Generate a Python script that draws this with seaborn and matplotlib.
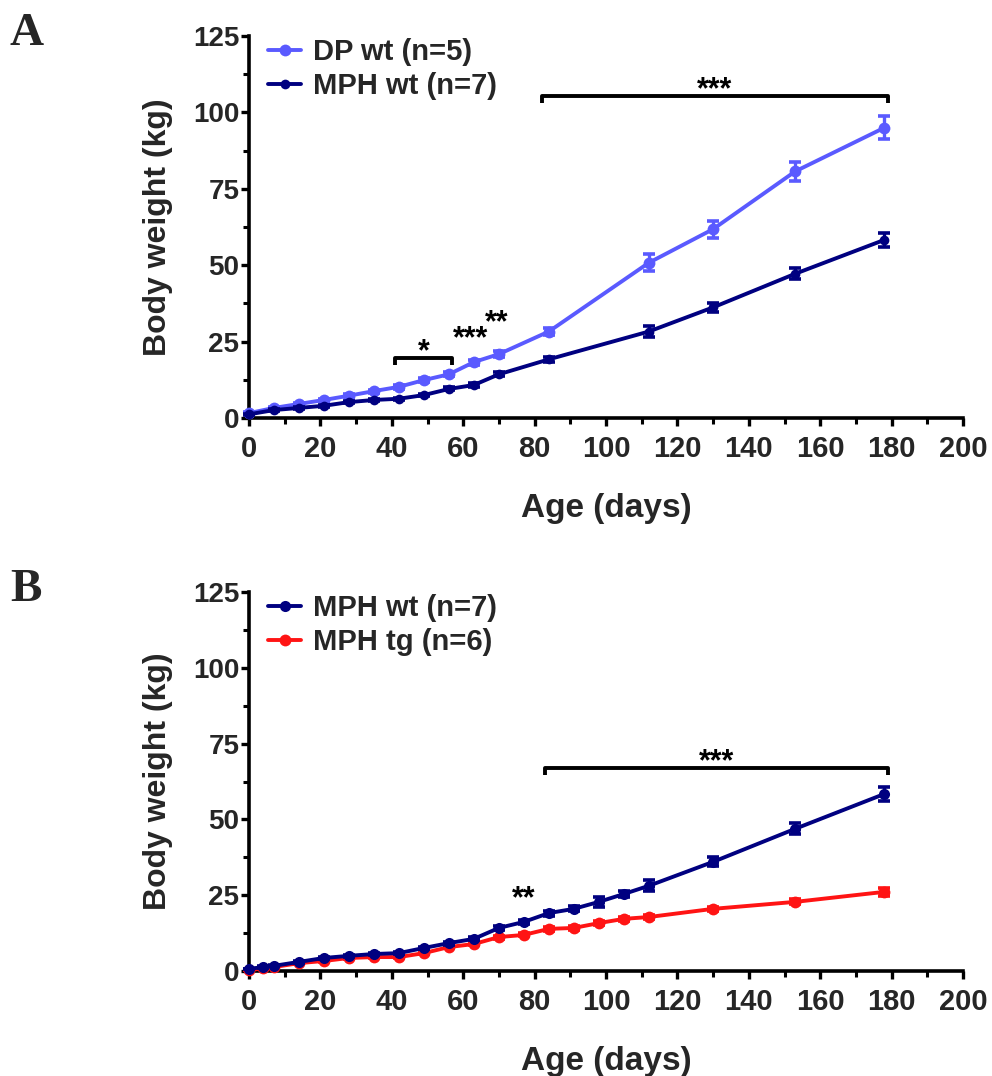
import numpy as np
import pandas as pd
import matplotlib
matplotlib.use("Agg")
import matplotlib.pyplot as plt
from matplotlib.ticker import MultipleLocator
from matplotlib.lines import Line2D
import seaborn as sns

# ---------------- data ----------------
days_a = [0, 7, 14, 21, 28, 35, 42, 49, 56, 63, 70, 84, 112, 130, 153, 178]
dp_wt_a = [1.6, 3.3, 4.6, 5.9, 7.3, 8.8, 10.2, 12.4, 14.3, 18.3, 20.9, 28.3, 50.8, 61.8, 80.7, 95.0]
dp_wt_a_err = [0.3, 0.3, 0.4, 0.4, 0.5, 0.5, 0.6, 0.6, 0.7, 0.8, 0.9, 1.3, 2.8, 2.8, 3.0, 3.8]
mph_wt_a = [1.2, 2.6, 3.3, 4.0, 5.2, 5.9, 6.3, 7.5, 9.5, 10.8, 14.3, 19.2, 28.3, 36.2, 47.2, 58.3]
mph_wt_a_err = [0.2, 0.2, 0.3, 0.3, 0.3, 0.3, 0.4, 0.4, 0.5, 0.5, 0.6, 0.8, 1.8, 1.5, 1.8, 2.2]

days_b = [0, 4, 7, 14, 21, 28, 35, 42, 49, 56, 63, 70, 77, 84, 91, 98, 105, 112, 130, 153, 178]
mph_wt_b = [0.7, 1.3, 1.7, 3.0, 4.3, 5.0, 5.6, 5.9, 7.6, 9.2, 10.6, 14.2, 16.2, 19.1, 20.5,
            22.8, 25.4, 28.1, 36.0, 46.9, 58.4]
mph_wt_b_err = [0.1, 0.2, 0.2, 0.3, 0.3, 0.3, 0.3, 0.4, 0.4, 0.5, 0.5, 0.6, 0.7, 0.8, 0.8,
                1.6, 0.9, 1.8, 1.5, 1.8, 2.2]
mph_tg_b = [0.3, 0.9, 1.3, 2.6, 3.3, 4.3, 4.6, 4.6, 5.9, 7.9, 8.9, 11.2, 11.9, 13.9, 14.2,
            15.8, 17.2, 17.8, 20.5, 22.8, 26.1]
mph_tg_b_err = [0.1, 0.1, 0.2, 0.2, 0.3, 0.3, 0.3, 0.3, 0.3, 0.4, 0.4, 0.5, 0.5, 0.6, 0.6,
                0.6, 0.6, 0.7, 0.7, 0.8, 1.3]

labels_a = ["DP wt (n=5)", "MPH wt (n=7)"]
labels_b = ["MPH wt (n=7)", "MPH tg (n=6)"]
x_ticks = [0, 20, 40, 60, 80, 100, 120, 140, 160, 180, 200]
y_ticks = [0, 25, 50, 75, 100, 125]

# significance annotations: (x_start, x_end, y, text)
sig_a_brackets = [(82, 179, 105.3, "***"), (41, 57, 19.5, "*")]
sig_a_text = [(62, 25.8, "***"), (69.5, 31.0, "**")]
sig_b_brackets = [(83, 179, 67.0, "***")]
sig_b_text = [(77, 23.8, "**")]

c_dp = "#5a5aff"
c_mph = "#000080"
c_tg = "#ff1414"

# ---------------- style ----------------
sns.set_style("ticks")
plt.rcParams["font.family"] = ["Liberation Sans", "DejaVu Sans"]
plt.rcParams["font.weight"] = "bold"

fig = plt.figure(figsize=(9.92, 10.76), dpi=100)
W, H = 992, 1076


def make_ax(top_px, bot_px):
    l, r = 249 / W, 963 / W
    return fig.add_axes([l, 1 - bot_px / H, r - l, (bot_px - top_px) / H])


axA = make_ax(36, 418)
axB = make_ax(592, 971)


def series(ax, x, y, e, color, ms):
    df = pd.DataFrame({"x": x, "y": y})
    sns.lineplot(data=df, x="x", y="y", ax=ax, color=color, lw=2.8, marker="o",
                 markersize=ms, markeredgewidth=0, clip_on=False, zorder=3)
    ax.errorbar(x, y, yerr=e, fmt="none", ecolor=color, elinewidth=2.4,
                capsize=4.5, capthick=2.6, clip_on=False, zorder=3)


def style_axis(ax):
    ax.set_xlim(0, 200)
    ax.set_ylim(0, 125)
    ax.set_xticks(x_ticks)
    ax.set_yticks(y_ticks)
    ax.xaxis.set_minor_locator(MultipleLocator(10))
    ax.yaxis.set_minor_locator(MultipleLocator(12.5))
    for s in ["top", "right"]:
        ax.spines[s].set_visible(False)
    for s in ["left", "bottom"]:
        ax.spines[s].set_linewidth(2.6)
        ax.spines[s].set_color("black")
    ax.tick_params(which="major", length=6, width=2.4, color="black")
    ax.tick_params(which="minor", length=4, width=2.2, color="black")
    ax.tick_params(axis="y", labelsize=20, pad=1)
    ax.tick_params(axis="x", labelsize=21, pad=6)
    for t in ax.get_xticklabels() + ax.get_yticklabels():
        t.set_fontweight("bold")
    ax.set_xlabel("Age (days)", fontsize=24, fontweight="bold", labelpad=22)
    ax.set_ylabel("Body weight (kg)", fontsize=23, fontweight="bold", labelpad=14)


def stars(ax, x, y, txt):
    ax.text(x, y, txt, ha="center", va="center", fontsize=22, fontweight="bold",
            color="black")


def bracket(ax, x0, x1, y, txt):
    ax.plot([x0, x0, x1, x1], [y - 2.2, y, y, y - 2.2], color="black", lw=2.8,
            solid_capstyle="butt", clip_on=False, zorder=4)
    stars(ax, (x0 + x1) / 2, y + 2.0, txt)


def legend(ax, labels, colors, sizes):
    handles = [Line2D([0], [0], color=c, lw=2.8, marker="o", markersize=s,
                      markeredgewidth=0) for c, s in zip(colors, sizes)]
    ax.legend(handles, labels, loc="upper left", bbox_to_anchor=(0.01, 1.025),
              frameon=False, handlelength=1.15, handletextpad=0.4,
              labelspacing=0.2, borderaxespad=0.0,
              prop={"weight": "bold", "size": 21})


# Panel A
series(axA, days_a, dp_wt_a, dp_wt_a_err, c_dp, 8.5)
series(axA, days_a, mph_wt_a, mph_wt_a_err, c_mph, 7)
style_axis(axA)
for x0, x1, y, t in sig_a_brackets:
    bracket(axA, x0, x1, y, t)
for x, y, t in sig_a_text:
    stars(axA, x, y, t)
legend(axA, labels_a, [c_dp, c_mph], [8.5, 7])

# Panel B
series(axB, days_b, mph_tg_b, mph_tg_b_err, c_tg, 8.5)
series(axB, days_b, mph_wt_b, mph_wt_b_err, c_mph, 8)
style_axis(axB)
for x0, x1, y, t in sig_b_brackets:
    bracket(axB, x0, x1, y, t)
for x, y, t in sig_b_text:
    stars(axB, x, y, t)
legend(axB, labels_b, [c_mph, c_tg], [8, 8.5])

fig.text(10 / W, 1 - 45 / H, "A", fontsize=34, fontweight="bold",
         family=["Liberation Serif", "DejaVu Serif"], ha="left", va="baseline")
fig.text(10 / W, 1 - 601 / H, "B", fontsize=34, fontweight="bold",
         family=["Liberation Serif", "DejaVu Serif"], ha="left", va="baseline")

fig.savefig("out.png", dpi=100)
